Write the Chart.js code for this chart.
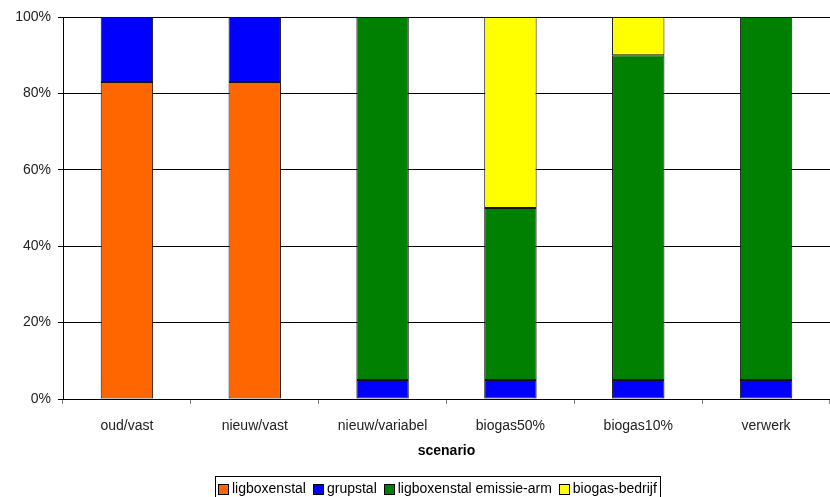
<!DOCTYPE html>
<html>
<head>
<meta charset="utf-8">
<script src="https://cdn.jsdelivr.net/npm/chart.js@4/dist/chart.umd.min.js"></script>
<style>
  html, body { margin: 0; padding: 0; background: #fff; }
  #wrap { width: 830px; height: 497px; }
</style>
</head>
<body>
<div id="wrap"><canvas id="c" width="830" height="497"></canvas></div>
<script>
// Scenarios on the x axis
const scenarios = ['oud/vast', 'nieuw/vast', 'nieuw/variabel', 'biogas50%', 'biogas10%', 'verwerk'];

// Share of each housing system per scenario (percent)
const ligboxenstal         = [83, 83, 0, 0, 0, 0];
const grupstal             = [17, 17, 5, 5, 5, 5];
const ligboxenstalEmissie  = [0, 0, 95, 45, 85, 95];
const biogasBedrijf        = [0, 0, 0, 50, 10, 0];

const seriesNames = ['ligboxenstal', 'grupstal', 'ligboxenstal emissie-arm', 'biogas-bedrijf'];
const seriesColors = ['#FF6600', '#0000FF', '#008000', '#FFFF00'];

const yTicks = [0, 20, 40, 60, 80, 100];

const FONT = '"Liberation Sans", Arial, sans-serif';

const seriesValues = [ligboxenstal, grupstal, ligboxenstalEmissie, biogasBedrijf];
const datasets = seriesValues.map((vals, i) => ({
  label: seriesNames[i],
  data: vals,
  backgroundColor: seriesColors[i],
  borderColor: '#111',
  // empty segments get no outline
  borderWidth: ctx => (ctx.raw ? 1 : 0),
  borderSkipped: false,
  stack: 'share',
  categoryPercentage: 1.0,
  barPercentage: 0.41
}));

// Boxed legend below the axis title
const boxedLegend = {
  id: 'boxedLegend',
  afterDraw(chart) {
    const ctx = chart.ctx;
    ctx.save();
    ctx.font = '14px ' + FONT;
    const sw = 10, gap = 4, spacing = 7, pad = 3;
    const items = chart.data.datasets.map(d => ({
      text: d.label, color: d.backgroundColor, w: ctx.measureText(d.label).width
    }));
    let total = pad * 2 + spacing * (items.length - 1);
    items.forEach(it => total += sw + gap + it.w);
    const cx = 437;
    const left = Math.round(cx - total / 2);
    const top = 476;
    ctx.strokeStyle = '#000';
    ctx.lineWidth = 1;
    ctx.strokeRect(left + 0.5, top + 0.5, Math.round(total), 30);
    let x = left + pad;
    const cy = 489;
    ctx.textBaseline = 'middle';
    ctx.textAlign = 'left';
    items.forEach(it => {
      const bx = Math.round(x);
      ctx.fillStyle = it.color;
      ctx.fillRect(bx + 0.5, cy - 5 + 0.5, sw, sw);
      ctx.strokeRect(bx + 0.5, cy - 5 + 0.5, sw, sw);
      ctx.fillStyle = '#000';
      ctx.fillText(it.text, x + sw + gap, cy);
      x += sw + gap + it.w + spacing;
    });
    ctx.restore();
  }
};

new Chart(document.getElementById('c'), {
  type: 'bar',
  data: { labels: scenarios, datasets },
  plugins: [boxedLegend],
  options: {
    responsive: false,
    animation: false,
    layout: { padding: { top: 17, right: 0, bottom: 21, left: 0 } },
    plugins: {
      legend: { display: false },
      tooltip: { enabled: false }
    },
    scales: {
      x: {
        stacked: true,
        grid: {
          offset: true,
          drawOnChartArea: false,
          drawTicks: true,
          tickLength: 5,
          color: '#808080'
        },
        border: { color: '#000', width: 1 },
        ticks: {
          font: { family: FONT, size: 14 },
          color: '#222',
          padding: 14,
          maxRotation: 0
        },
        title: {
          display: true,
          text: 'scenario',
          font: { family: FONT, size: 14, weight: 'bold' },
          color: '#000',
          padding: { top: 0, bottom: 16 }
        },
        afterFit(scale) { scale.height = 77; }
      },
      y: {
        stacked: true,
        min: 0,
        max: 100,
        afterBuildTicks(scale) { scale.ticks = yTicks.map(v => ({ value: v })); },
        grid: {
          color: '#000',
          tickLength: 5,
          tickColor: '#000'
        },
        border: { color: '#000', width: 1 },
        ticks: {
          font: { family: FONT, size: 14 },
          color: '#222',
          padding: 7,
          callback: v => v + '%'
        },
        afterFit(scale) { scale.width = 63; }
      }
    }
  }
});
</script>
</body>
</html>
